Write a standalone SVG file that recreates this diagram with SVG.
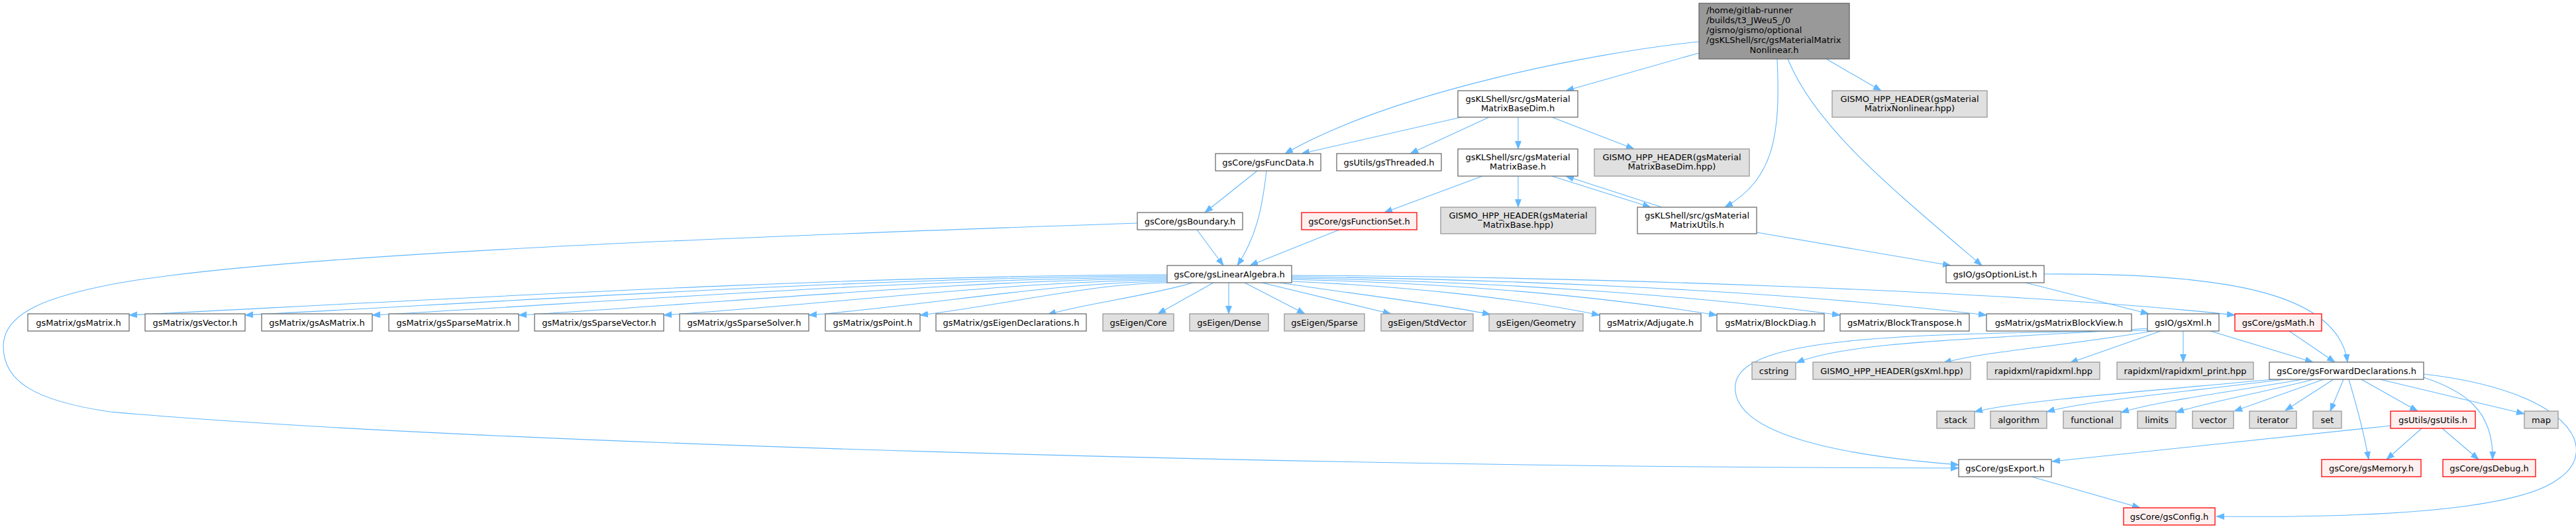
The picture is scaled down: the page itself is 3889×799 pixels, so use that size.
<svg xmlns="http://www.w3.org/2000/svg" width="3889" height="799" viewBox="0 0 3889 799">
<style>
rect{stroke-width:1.3}
.w{fill:#ffffff;stroke:#6e6e6e}
.g{fill:#e0e0e0;stroke:#999999}
.r{fill:#fff0f0;stroke:#ff0000}
.root{fill:#999999;stroke:#666666}
text{font-family:"DejaVu Sans","Liberation Sans",sans-serif;font-size:13px;fill:#000000;text-anchor:middle}
text.l{text-anchor:start}
#edges path{fill:none;stroke:#63b8ff;stroke-width:1.1;marker-end:url(#ah)}
</style>
<defs>
<marker id="ah" markerUnits="userSpaceOnUse" markerWidth="13" markerHeight="10" refX="12" refY="4.5" orient="auto" viewBox="0 0 13 9">
<path d="M0,0L12,4.5L0,9z" fill="#63b8ff" stroke="#63b8ff" stroke-width="0.8"/>
</marker>
</defs>
<rect width="3889" height="799" fill="#ffffff" stroke="none"/>
<g id="edges">
<path d="M2565,63 C2400,80 2100,140 1940,232"/>
<path d="M2206,177 L1965,232"/>
<path d="M2248,177 L2129,232"/>
<path d="M2292,177 L2292,225"/>
<path d="M2343,177 L2467,225"/>
<path d="M2565,80 L2364,137"/>
<path d="M2757,89 L2840,137"/>
<path d="M2683,89 C2688,200 2680,270 2604,313"/>
<path d="M2699,89 C2740,190 2850,280 2992,401"/>
<path d="M2238,266 L2090,321"/>
<path d="M2292,266 L2292,313"/>
<path d="M2343,266 L2492,313"/>
<path d="M2509,313 L2364,266"/>
<path d="M2652,351 L2945,401"/>
<path d="M1898,258 L1819,321"/>
<path d="M1912,258 C1905,320 1895,360 1868,401"/>
<path d="M1807,347 L1847,401"/>
<path d="M2022,347 L1887,401"/>
<path d="M1717,337 C1100,358 400,385 166,430 C80,447 5,470 5,523 C5,575 50,605 166,622 C700,670 2000,706 2957,707"/>
<path d="M1762,415 C1292,416 743,448 195,476"/>
<path d="M1762,417 C1344,418 857,450 370,476"/>
<path d="M1762,419 C1402,420 982,452 562,476"/>
<path d="M1762,421 C1468,422 1126,455 783,476"/>
<path d="M1762,423 C1534,424 1268,458 1002,476"/>
<path d="M1762,425 C1600,426 1410,460 1221,476"/>
<path d="M1762,427 C1650,428 1520,460 1389,476"/>
<path d="M1801,427 C1730,448 1640,458 1582,475"/>
<path d="M1832,427 L1748,474"/>
<path d="M1855,427 L1855,474"/>
<path d="M1879,427 L1970,474"/>
<path d="M1905,427 L2100,474"/>
<path d="M1932,427 C2050,445 2180,460 2250,475"/>
<path d="M1950,425 C2120,432 2290,450 2415,476"/>
<path d="M1950,422 C2200,428 2420,448 2592,476"/>
<path d="M1950,420 C2250,425 2550,445 2778,476"/>
<path d="M1950,418 C2300,422 2700,440 2999,476"/>
<path d="M1950,416 C2400,418 3050,440 3374,476"/>
<path d="M3058,427 L3244,474"/>
<path d="M3086,414 C3350,412 3530,440 3544,547"/>
<path d="M3242,499 C2900,505 2630,505 2620,580 C2610,660 2800,690 2957,702"/>
<path d="M3243,496 C3000,512 2790,515 2712,548"/>
<path d="M3250,500 C3100,525 3000,530 2934,548"/>
<path d="M3262,500 L3125,548"/>
<path d="M3296,500 L3296,547"/>
<path d="M3337,500 L3492,547"/>
<path d="M3456,500 L3525,547"/>
<path d="M3432,573 C3250,590 3050,605 2981,622"/>
<path d="M3448,573 C3300,592 3150,605 3090,622"/>
<path d="M3476,573 C3380,590 3260,605 3202,623"/>
<path d="M3493,573 C3420,592 3330,608 3285,623"/>
<path d="M3508,573 L3373,621"/>
<path d="M3523,573 L3450,620"/>
<path d="M3538,573 L3518,621"/>
<path d="M3565,573 L3650,621"/>
<path d="M3593,573 L3811,625"/>
<path d="M3546,573 C3560,620 3570,660 3576,694"/>
<path d="M3659,570 C3720,590 3765,620 3763,694"/>
<path d="M3659,565 C3880,590 3930,680 3860,725 C3790,775 3550,782 3346,780"/>
<path d="M3609,643 L3098,697"/>
<path d="M3656,647 L3603,694"/>
<path d="M3687,647 L3742,694"/>
<path d="M3067,720 L3231,767"/>
</g>
<g id="n0"><rect class="root" x="2565" y="5" width="227" height="84"/><text class="l" x="2576" y="20">/home/gitlab-runner</text><text class="l" x="2576" y="35">/builds/t3_JWeu5_/0</text><text class="l" x="2576" y="50">/gismo/gismo/optional</text><text class="l" x="2576" y="65">/gsKLShell/src/gsMaterialMatrix</text><text x="2678.5" y="80">Nonlinear.h</text></g>
<g id="n1"><rect class="w" x="2201" y="137" width="181" height="40"/><text x="2291.5" y="154">gsKLShell/src/gsMaterial</text><text x="2291.5" y="168">MatrixBaseDim.h</text></g>
<g id="n2"><rect class="g" x="2766" y="137" width="234" height="40"/><text x="2883" y="154">GISMO_HPP_HEADER(gsMaterial</text><text x="2883" y="168">MatrixNonlinear.hpp)</text></g>
<g id="n3"><rect class="w" x="1835" y="232" width="159" height="26"/><text x="1914.5" y="249.5">gsCore/gsFuncData.h</text></g>
<g id="n4"><rect class="w" x="2018" y="232" width="158" height="26"/><text x="2097" y="249.5">gsUtils/gsThreaded.h</text></g>
<g id="n5"><rect class="w" x="2201" y="225" width="181" height="41"/><text x="2291.5" y="242">gsKLShell/src/gsMaterial</text><text x="2291.5" y="256">MatrixBase.h</text></g>
<g id="n6"><rect class="g" x="2407" y="225" width="234" height="41"/><text x="2524" y="242">GISMO_HPP_HEADER(gsMaterial</text><text x="2524" y="256">MatrixBaseDim.hpp)</text></g>
<g id="n7"><rect class="w" x="1717" y="321" width="159" height="26"/><text x="1796.5" y="338.5">gsCore/gsBoundary.h</text></g>
<g id="n8"><rect class="r" x="1965" y="321" width="174" height="26"/><text x="2052" y="338.5">gsCore/gsFunctionSet.h</text></g>
<g id="n9"><rect class="g" x="2175" y="313" width="234" height="40"/><text x="2292" y="330">GISMO_HPP_HEADER(gsMaterial</text><text x="2292" y="344">MatrixBase.hpp)</text></g>
<g id="n10"><rect class="w" x="2472" y="313" width="180" height="40"/><text x="2562" y="330">gsKLShell/src/gsMaterial</text><text x="2562" y="344">MatrixUtils.h</text></g>
<g id="n11"><rect class="w" x="1762" y="401" width="188" height="26"/><text x="1856" y="418.5">gsCore/gsLinearAlgebra.h</text></g>
<g id="n12"><rect class="w" x="2938" y="401" width="148" height="26"/><text x="3012" y="418.5">gsIO/gsOptionList.h</text></g>
<g id="n13"><rect class="w" x="42" y="474" width="153" height="26"/><text x="118.5" y="491.5">gsMatrix/gsMatrix.h</text></g>
<g id="n14"><rect class="w" x="219" y="474" width="151" height="26"/><text x="294.5" y="491.5">gsMatrix/gsVector.h</text></g>
<g id="n15"><rect class="w" x="395" y="474" width="167" height="26"/><text x="478.5" y="491.5">gsMatrix/gsAsMatrix.h</text></g>
<g id="n16"><rect class="w" x="587" y="474" width="196" height="26"/><text x="685" y="491.5">gsMatrix/gsSparseMatrix.h</text></g>
<g id="n17"><rect class="w" x="807" y="474" width="195" height="26"/><text x="904.5" y="491.5">gsMatrix/gsSparseVector.h</text></g>
<g id="n18"><rect class="w" x="1026" y="474" width="195" height="26"/><text x="1123.5" y="491.5">gsMatrix/gsSparseSolver.h</text></g>
<g id="n19"><rect class="w" x="1246" y="474" width="143" height="26"/><text x="1317.5" y="491.5">gsMatrix/gsPoint.h</text></g>
<g id="n20"><rect class="w" x="1413" y="474" width="227" height="26"/><text x="1526.5" y="491.5">gsMatrix/gsEigenDeclarations.h</text></g>
<g id="n21"><rect class="g" x="1665" y="474" width="107" height="26"/><text x="1718.5" y="491.5">gsEigen/Core</text></g>
<g id="n22"><rect class="g" x="1796" y="474" width="119" height="26"/><text x="1855.5" y="491.5">gsEigen/Dense</text></g>
<g id="n23"><rect class="g" x="1939" y="474" width="121" height="26"/><text x="1999.5" y="491.5">gsEigen/Sparse</text></g>
<g id="n24"><rect class="g" x="2085" y="474" width="139" height="26"/><text x="2154.5" y="491.5">gsEigen/StdVector</text></g>
<g id="n25"><rect class="g" x="2248" y="474" width="142" height="26"/><text x="2319" y="491.5">gsEigen/Geometry</text></g>
<g id="n26"><rect class="w" x="2415" y="474" width="153" height="26"/><text x="2491.5" y="491.5">gsMatrix/Adjugate.h</text></g>
<g id="n27"><rect class="w" x="2592" y="474" width="162" height="26"/><text x="2673" y="491.5">gsMatrix/BlockDiag.h</text></g>
<g id="n28"><rect class="w" x="2778" y="474" width="195" height="26"/><text x="2875.5" y="491.5">gsMatrix/BlockTranspose.h</text></g>
<g id="n29"><rect class="w" x="2999" y="474" width="219" height="26"/><text x="3108.5" y="491.5">gsMatrix/gsMatrixBlockView.h</text></g>
<g id="n30"><rect class="w" x="3242" y="474" width="108" height="26"/><text x="3296" y="491.5">gsIO/gsXml.h</text></g>
<g id="n31"><rect class="r" x="3374" y="474" width="131" height="26"/><text x="3439.5" y="491.5">gsCore/gsMath.h</text></g>
<g id="n32"><rect class="g" x="2645" y="547" width="66" height="26"/><text x="2678" y="564.5">cstring</text></g>
<g id="n33"><rect class="g" x="2737" y="547" width="238" height="26"/><text x="2856" y="564.5">GISMO_HPP_HEADER(gsXml.hpp)</text></g>
<g id="n34"><rect class="g" x="3000" y="547" width="170" height="26"/><text x="3085" y="564.5">rapidxml/rapidxml.hpp</text></g>
<g id="n35"><rect class="g" x="3196" y="547" width="206" height="26"/><text x="3299" y="564.5">rapidxml/rapidxml_print.hpp</text></g>
<g id="n36"><rect class="w" x="3426" y="547" width="233" height="26"/><text x="3542.5" y="564.5">gsCore/gsForwardDeclarations.h</text></g>
<g id="n37"><rect class="g" x="2924" y="621" width="57" height="26"/><text x="2952.5" y="638.5">stack</text></g>
<g id="n38"><rect class="g" x="3005" y="621" width="85" height="26"/><text x="3047.5" y="638.5">algorithm</text></g>
<g id="n39"><rect class="g" x="3115" y="621" width="87" height="26"/><text x="3158.5" y="638.5">functional</text></g>
<g id="n40"><rect class="g" x="3227" y="621" width="58" height="26"/><text x="3256" y="638.5">limits</text></g>
<g id="n41"><rect class="g" x="3310" y="621" width="62" height="26"/><text x="3341" y="638.5">vector</text></g>
<g id="n42"><rect class="g" x="3396" y="621" width="71" height="26"/><text x="3431.5" y="638.5">iterator</text></g>
<g id="n43"><rect class="g" x="3492" y="621" width="43" height="26"/><text x="3513.5" y="638.5">set</text></g>
<g id="n44"><rect class="r" x="3609" y="621" width="128" height="26"/><text x="3673" y="638.5">gsUtils/gsUtils.h</text></g>
<g id="n45"><rect class="g" x="3811" y="621" width="51" height="26"/><text x="3836.5" y="638.5">map</text></g>
<g id="n46"><rect class="w" x="2957" y="694" width="140" height="26"/><text x="3027" y="711.5">gsCore/gsExport.h</text></g>
<g id="n47"><rect class="r" x="3505" y="694" width="150" height="26"/><text x="3580" y="711.5">gsCore/gsMemory.h</text></g>
<g id="n48"><rect class="r" x="3688" y="694" width="140" height="26"/><text x="3758" y="711.5">gsCore/gsDebug.h</text></g>
<g id="n49"><rect class="r" x="3206" y="767" width="138" height="26"/><text x="3275" y="784.5">gsCore/gsConfig.h</text></g>
</svg>
